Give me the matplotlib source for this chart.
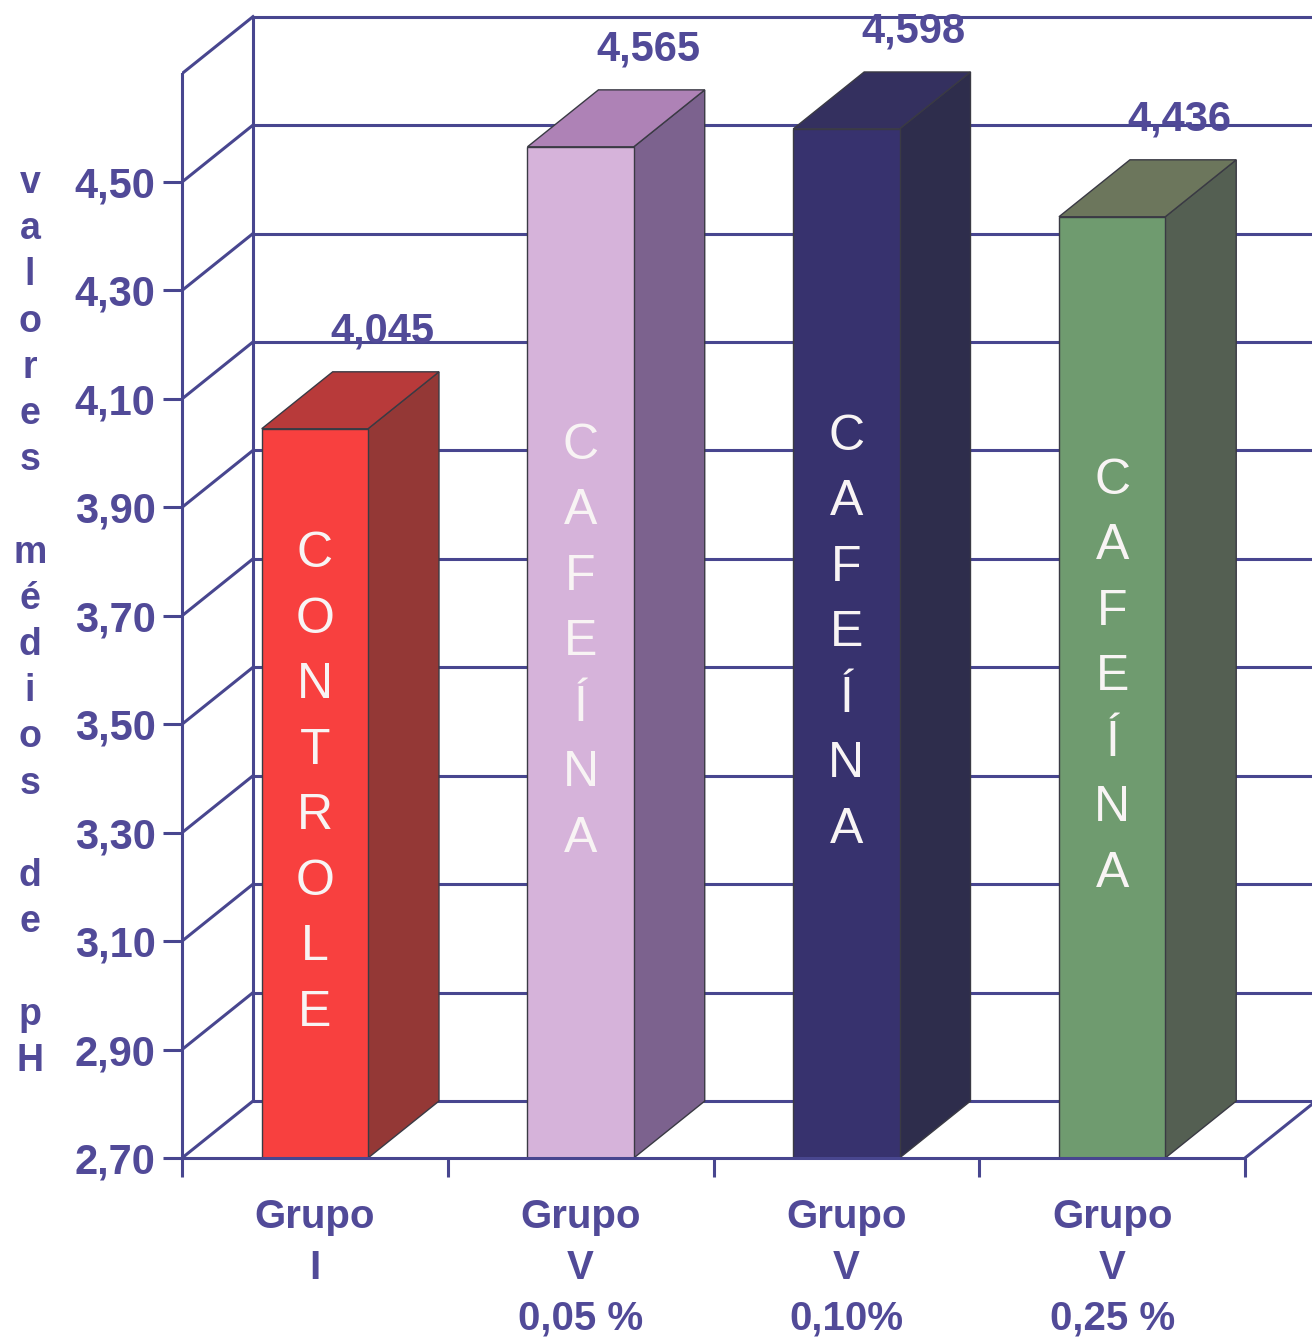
import matplotlib
matplotlib.use("Agg")
import matplotlib.pyplot as plt
from matplotlib.patches import Polygon, Rectangle
import numpy as np

plt.rcParams['font.family'] = ['Liberation Sans', 'DejaVu Sans']

# mean pH per group
grupos = ["Grupo\nI", "Grupo\nV\n0,05 %", "Grupo\nV\n0,10%", "Grupo\nV\n0,25 %"]
valores = [4.045, 4.565, 4.598, 4.436]
rotulos = ["4,045", "4,565", "4,598", "4,436"]
palavras = ["CONTROLE", "CAFEÍNA", "CAFEÍNA", "CAFEÍNA"]
yticks = [2.70, 2.90, 3.10, 3.30, 3.50, 3.70, 3.90, 4.10, 4.30, 4.50]
ytick_labels = ["2,70", "2,90", "3,10", "3,30", "3,50", "3,70", "3,90", "4,10", "4,30", "4,50"]
titulo_y = "valores médios de pH"

# front / top / side colour of each bar
cores_frente = ["#F8403F", "#D6B3DA", "#37326E", "#6F9B6F"]
cores_topo = ["#B83A3A", "#AE82B6", "#34305F", "#6C765C"]
cores_lado = ["#943836", "#7C628E", "#2E2D4C", "#545F52"]

azul = "#48468F"
azul_txt = "#514A98"
borda = "#3A3A44"

y0, y1 = 2.70, 4.70
dx, dy = 0.267, 0.105      # depth of the 3D box in data units
larg = 0.4                 # bar width (category = 1)

W, H = 1312, 1343
fig = plt.figure(figsize=(W / 100, H / 100), dpi=100)
fig.patch.set_facecolor("white")

# axes: x=0 at the front-left edge, 1 unit = one category
left_px, bottom_px = 182, 185
px_x = 265.75
px_y = 542.2
ax = fig.add_axes([left_px / W, bottom_px / H, 1 - left_px / W, 1 - bottom_px / H])
ax.set_xlim(0, (W - left_px) / px_x)
ax.set_ylim(y0, y0 + (H - bottom_px) / px_y)
ax.set_facecolor("white")

lw = 2.2
n = len(valores)

# walls: back grid, left-wall diagonals, back-left edge, floor edge on the right
niveis = np.round(np.arange(y0, y1 + 0.001, 0.2), 2)
for v in niveis:
    ax.plot([dx, 10], [v + dy, v + dy], color=azul, lw=lw, zorder=1, solid_capstyle="butt")
    ax.plot([0, dx], [v, v + dy], color=azul, lw=lw, zorder=1)
ax.plot([dx, dx], [y0 + dy, y1 + dy], color=azul, lw=lw, zorder=1)
ax.plot([n, n + dx], [y0, y0 + dy], color=azul, lw=lw, zorder=1)

# 3D bars
for i, v in enumerate(valores):
    xl = i + 0.5 - larg / 2
    xr = i + 0.5 + larg / 2
    frente = Rectangle((xl, y0), larg, v - y0, facecolor=cores_frente[i],
                       edgecolor=borda, lw=1.0, zorder=3)
    lado = Polygon([(xr, y0), (xr + dx, y0 + dy), (xr + dx, v + dy), (xr, v)],
                   closed=True, facecolor=cores_lado[i], edgecolor=borda, lw=1.0, zorder=3)
    topo = Polygon([(xl, v), (xl + dx, v + dy), (xr + dx, v + dy), (xr, v)],
                   closed=True, facecolor=cores_topo[i], edgecolor=borda, lw=1.0, zorder=3)
    ax.add_patch(lado)
    ax.add_patch(topo)
    ax.add_patch(frente)

    # value above the bar
    ax.annotate(rotulos[i], xy=(i + 0.5 + dx * 0.95, v + dy), xytext=(0, 21),
                textcoords="offset points", ha="center", va="baseline",
                fontsize=30, fontweight="bold", color=azul_txt, zorder=5,
                annotation_clip=False)

    # word written downwards on the front face
    letras = list(palavras[i])
    meio = (y0 + v) / 2
    for j, c in enumerate(letras):
        centro_px = 15 - (j - (len(letras) - 1) / 2) * 65.5
        ax.annotate(c, xy=(i + 0.5, meio), xytext=(0, (centro_px - 18) * 0.72),
                    textcoords="offset points", ha="center", va="baseline",
                    fontsize=36, color="#F8F4F4", zorder=6)

# spines and ticks
for s in ["top", "right"]:
    ax.spines[s].set_visible(False)
ax.spines["left"].set_bounds(y0, y1)
ax.spines["bottom"].set_bounds(0, n)
for s in ["left", "bottom"]:
    ax.spines[s].set_color(azul)
    ax.spines[s].set_linewidth(lw)
    ax.spines[s].set_zorder(4)

ax.set_yticks(yticks)
ax.set_yticklabels(ytick_labels)
ax.tick_params(axis="y", length=14, width=lw, color=azul, pad=5,
               labelsize=30, labelcolor=azul_txt)
for t in ax.get_yticklabels():
    t.set_fontweight("bold")

ax.set_xticks(np.arange(n + 1))
ax.set_xticklabels([])
ax.set_xticks(np.arange(n) + 0.5, minor=True)
ax.set_xticklabels(grupos, minor=True, fontsize=29, fontweight="bold",
                   color=azul_txt, linespacing=1.42)
ax.tick_params(axis="x", which="major", length=14, width=lw, color=azul)
ax.tick_params(axis="x", which="minor", length=0, pad=29)

# y title, one letter per line
for k, c in enumerate(titulo_y):
    if c == " ":
        continue
    fig.text(30 / W, 1 - (193 + 46.2 * k) / H, c, ha="center", va="baseline",
             fontsize=27, fontweight="bold", color=azul_txt)

fig.savefig("out.png", dpi=100, facecolor="white")
